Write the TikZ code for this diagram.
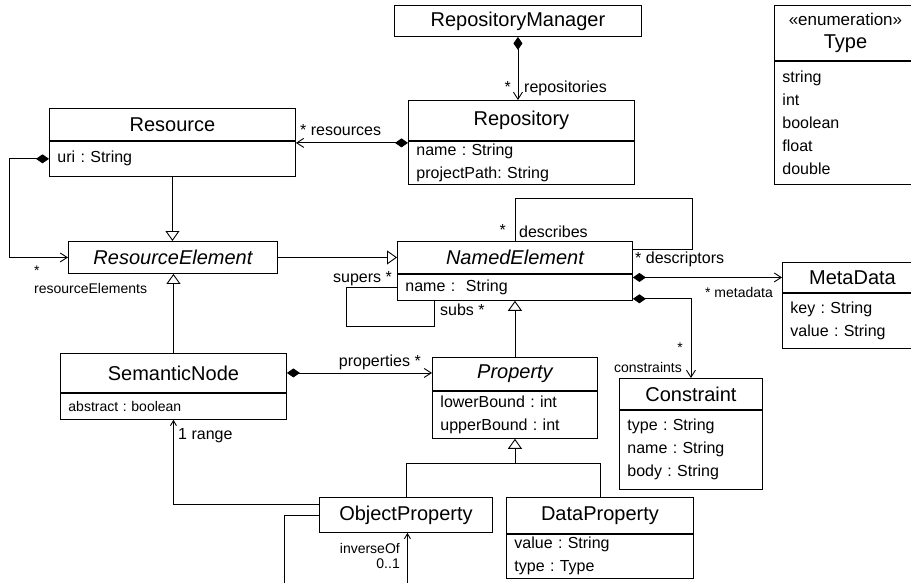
\documentclass[tikz,border=0pt]{standalone}
\usepackage{fontspec}
\setmainfont{Liberation Sans}
\usetikzlibrary{arrows.meta}
\frenchspacing

\begin{document}
\begin{tikzpicture}[x=1pt,y=-1pt,
    cls/.style={draw,line width=0.9pt,anchor=north west,inner sep=0pt,font=\fontsize{20}{23}\selectfont},
    attr/.style={draw,line width=0.9pt,anchor=north west,inner xsep=8pt,inner ysep=0pt,align=left,font=\fontsize{16}{23}\selectfont},
    lbl/.style={inner sep=0pt,font=\fontsize{16}{19}\selectfont},
    slbl/.style={inner sep=0pt,font=\fontsize{14}{17}\selectfont},
    gen/.style={line width=0.9pt,-{Triangle[open,length=10pt,width=14pt]}},
    comp/.style={line width=0.9pt,{Diamond[length=13pt,width=9pt]}-{Straight Barb[length=7pt,width=9pt]}},
    assoc/.style={line width=0.9pt,-{Straight Barb[length=5pt,width=6pt]}},
    link/.style={line width=0.9pt}]
    \useasboundingbox (0,0) rectangle (911,583);
    \clip (0,0) rectangle (911,583);

    % classes
    \node[cls,minimum width=247pt,minimum height=31pt] (rm) at (394,5) {RepositoryManager};

    \node[cls,minimum width=226pt,minimum height=40pt] (repo) at (408,100) {Repository};
    \node[attr,minimum width=226pt,minimum height=43pt,text width=210pt] (repoA) at (repo.south west) {name : String\\projectPath: String};

    \node[cls,minimum width=246pt,minimum height=32pt] (res) at (49,108) {Resource};
    \node[attr,minimum width=246pt,minimum height=35pt,text width=230pt] (resA) at (res.south west) {uri : String};

    \node[cls,minimum width=209pt,minimum height=32pt] (rese) at (68,241) {\itshape ResourceElement};

    \node[cls,minimum width=235pt,minimum height=32pt] (ne) at (397,241) {\itshape NamedElement};
    \node[attr,minimum width=235pt,minimum height=26pt,text width=219pt] (neA) at (ne.south west) {name :\ \ String};

    \node[cls,minimum width=140pt,minimum height=30pt] (md) at (782,262) {MetaData};
    \node[attr,minimum width=140pt,minimum height=55pt,text width=124pt] (mdA) at (md.south west) {key : String\\value : String};

    \node[cls,minimum width=143pt,minimum height=31pt] (con) at (619,378) {Constraint};
    \node[attr,minimum width=143pt,minimum height=79pt,text width=127pt] (conA) at (con.south west) {type : String\\name : String\\body : String};

    \node[cls,minimum width=226pt,minimum height=39pt] (sn) at (60,353) {SemanticNode};
    \node[attr,minimum width=226pt,minimum height=26pt,text width=210pt,font=\fontsize{14}{17}\selectfont] (snA) at (sn.south west) {abstract : boolean};

    \node[cls,minimum width=165pt,minimum height=33pt] (prop) at (432,357) {\itshape Property};
    \node[attr,minimum width=165pt,minimum height=47pt,text width=149pt] (propA) at (prop.south west) {lowerBound : int\\upperBound : int};

    \node[cls,minimum width=173pt,minimum height=35pt] (op) at (319,497) {ObjectProperty};

    \node[cls,minimum width=187pt,minimum height=36pt] (dp) at (506,497) {DataProperty};
    \node[attr,minimum width=187pt,minimum height=44pt,text width=171pt] (dpA) at (dp.south west) {value : String\\type : Type};

    \node[cls,minimum width=142pt,minimum height=55pt,align=center] (ty) at (774,5) {{\fontsize{17}{20}\selectfont «enumeration»}\\Type};
    \node[attr,minimum width=142pt,minimum height=123pt,text width=126pt] (tyA) at (ty.south west) {string\\int\\boolean\\float\\double};

    % generalizations
    \draw[gen] (resA.south) -- (resA.south |- rese.north);
    \draw[gen] (rese.east) -- (ne.west);
    \draw[gen] (sn.north) -- (sn.north |- rese.south);
    \draw[gen] (prop.north) -- (neA.south);
    \draw[gen] (op.north) |- ([yshift=-25pt]propA.south) -- (propA.south);
    \draw[link] (dp.north) |- ([yshift=-25pt]propA.south);

    % compositions
    \draw[comp] (rm.south) -- (rm.south |- repo.north);
    \draw[comp] ([yshift=-2pt]repoA.north west) -- ([yshift=-2pt]resA.north east);
    \draw[comp] (resA.west) -- ++(-40,0) |- (rese.west);
    \draw[comp] (neA.north east |- md.west) -- (md.west);
    \draw[comp] ([yshift=2pt]neA.south east) -| (con.north);
    \draw[comp] (sn.east) -- (sn.east -| prop.west);

    % associations and self loops
    \draw[link] (ne.north) |- ++(177,-43) |- ([yshift=-8pt]ne.north east);
    \draw[link] (neA.west) -| ++(-51,39) -| ([xshift=37pt]neA.south west);
    \draw[assoc] ([yshift=11pt]op.west) -| (snA.south);
    \draw[assoc] (op.west) -- ++(-35,0) -- ++(0,90) -| ([xshift=1.5pt]op.south);

    % role names and multiplicities
    \node[lbl,anchor=base east] (mRepos) at (511,93) {*};
    \node[lbl,anchor=base west] (lRepos) at (524,93) {repositories};
    \node[lbl,anchor=base west] (lRes) at (300,136) {* resources};
    \node[slbl,anchor=base west] (mResEl) at (34,275) {*};
    \node[slbl,anchor=base west] (lResEl) at (34,293) {resourceElements};
    \node[lbl,anchor=base east] (mDesc) at (506,236) {*};
    \node[lbl,anchor=base west] (lDesc) at (519,237) {describes};
    \node[lbl,anchor=base west] (lDescr) at (635,263) {* descriptors};
    \node[lbl,anchor=base east] (lSup) at (392,282) {supers *};
    \node[lbl,anchor=base west] (lSub) at (440,315) {subs *};
    \node[slbl,anchor=base east] (lMeta) at (773,297) {* metadata};
    \node[slbl,anchor=base east] (mCons) at (683,352) {*};
    \node[slbl,anchor=base east] (lCons) at (682,372) {constraints};
    \node[lbl,anchor=base east] (lProps) at (421,366) {properties *};
    \node[lbl,anchor=base west] (lRange) at (178,439) {1 range};
    \node[slbl,anchor=base east] (lInv) at (400,553) {inverseOf};
    \node[slbl,anchor=base east] (lMult) at (400,568) {0..1};
\end{tikzpicture}
\end{document}
